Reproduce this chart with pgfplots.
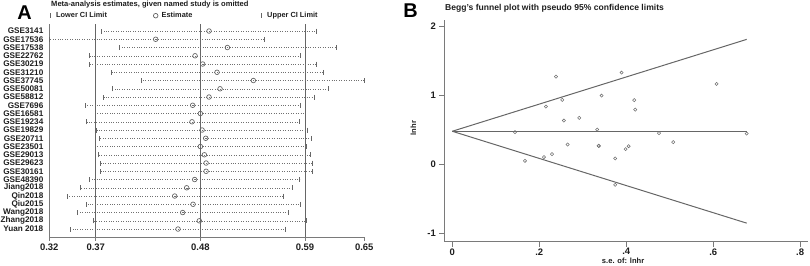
\documentclass[border=0pt]{standalone}
\usepackage{pgfplots}
\pgfplotsset{compat=1.18}
\usepackage{pgfplotstable}
\usepackage{fontspec}
\setmainfont{Liberation Sans}
\definecolor{txt}{HTML}{1E1E1E}
\definecolor{ln}{HTML}{666666}
\definecolor{axc}{HTML}{7A7A7A}
\definecolor{mk}{HTML}{707070}
\pgfplotsset{every axis title shift=0pt}

% leave-one-out estimates (row position, estimate, lower CI, upper CI)
\pgfplotstableread{
y est lo hi
25 0.4891 0.3760 0.6016
24 0.4330 0.3212 0.5469
23 0.5084 0.3945 0.6233
22 0.4744 0.3630 0.5854
21 0.4824 0.3630 0.6023
20 0.4975 0.3861 0.6089
19 0.5357 0.4183 0.6523
18 0.5007 0.3875 0.6145
17 0.4891 0.3777 0.6002
16 0.4719 0.3595 0.5854
15 0.4800 0.3700 0.5907
14 0.4712 0.3605 0.5837
13 0.4818 0.3707 0.5921
12 0.4856 0.3742 0.5970
11 0.4800 0.3697 0.5910
10 0.4842 0.3728 0.5953
9 0.4860 0.3746 0.5977
8 0.4860 0.3746 0.5977
7 0.4740 0.3633 0.5844
6 0.4656 0.3539 0.5770
5 0.4530 0.3399 0.5676
4 0.4723 0.3605 0.5847
3 0.4614 0.3507 0.5728
2 0.4789 0.3672 0.5910
1 0.4565 0.3437 0.5693
}\loodata

% Begg's funnel: se, lnhr
\pgfplotstableread{
se lnhr
0.1441 0.467
0.1671 0.053
0.2108 0.107
0.2154 0.837
0.2292 0.150
0.2384 1.269
0.2529 0.933
0.2568 0.635
0.2653 0.288
0.2920 0.674
0.3333 0.505
0.3366 0.270
0.3370 0.268
0.3434 0.995
0.3747 0.087
0.3747 -0.293
0.3894 1.327
0.3986 0.222
0.4055 0.265
0.4184 0.929
0.4207 0.793
0.4752 0.453
0.5080 0.323
0.6078 1.164
0.6770 0.447
}\funneldata

\begin{document}
\begin{tikzpicture}[font=\bfseries, text=txt]
\path[use as bounding box] (0,0) rectangle (810bp,266bp);

% ---------------- Panel A ----------------
\node[font=\fontsize{20}{22}\bfseries, text=black] at (24.5bp,253bp) {A};
\begin{axis}[
  at={(49.3bp,28.7bp)}, anchor=south west,
  scale only axis, width=315bp, height=213.3bp,
  xmin=0.3212, xmax=0.6523, ymin=0, ymax=25.85,
  axis x line*=bottom, axis y line*=left,
  axis line style={axc, line width=0.8bp},
  xtick={0.3212,0.37,0.48,0.59,0.6523},
  xticklabels={0.32,0.37,0.48,0.59,0.65},
  xtick align=outside, ytick align=inside,
  major tick length=3.5bp,
  x tick style={axc, line width=0.8bp},
  y tick style={draw=none},
  ytick={1,...,25},
  yticklabels={Yuan 2018,Zhang2018,Wang2018,Qiu2015,Qin2018,Jiang2018,GSE48390,GSE30161,GSE29623,GSE29013,GSE23501,GSE20711,GSE19829,GSE19234,GSE16581,GSE7696,GSE58812,GSE50081,GSE37745,GSE31210,GSE30219,GSE22762,GSE17538,GSE17536,GSE3141},
  xticklabel style={font=\fontsize{9.5}{10}\bfseries, inner sep=0pt, yshift=-3bp},
  yticklabel style={font=\fontsize{8.2}{8.25}\bfseries, inner sep=0pt, xshift=-5.8bp},
  /pgf/number format/assume math mode=true,
  title={Meta-analysis estimates, given named study is omitted},
  title style={at={(axis description cs:0,1)}, anchor=west, xshift=1.7bp, yshift=19bp, inner sep=0pt, font=\fontsize{7.6}{8}\bfseries},
  legend columns=3,
  legend image code/.code={\path[draw=none, fill=none] (-3bp,-2.5bp) rectangle (6bp,2.5bp); \draw[#1] plot coordinates {(0bp,0bp)};},
  legend style={at={(axis description cs:0,1)}, anchor=west, xshift=-2.3bp, yshift=8.3bp,
    draw=none, fill=none, inner sep=0pt, column sep=0pt, row sep=0pt,
    nodes={inner sep=0pt}, font=\fontsize{7.4}{8}\bfseries},
  legend cell align=left,
  clip=false,
]
\addlegendimage{only marks, mark=|, mark size=2.5bp, mark options={ln, line width=0.7bp}}
\addlegendentry{\makebox[96.5bp][l]{Lower CI Limit}}
\addlegendimage{only marks, mark=o, mark size=2.3bp, mark options={ln, line width=0.7bp}}
\addlegendentry{\makebox[96.5bp][l]{Estimate}}
\addlegendimage{only marks, mark=|, mark size=2.5bp, mark options={ln, line width=0.7bp}}
\addlegendentry{\makebox[96.5bp][l]{Upper CI Limit}}

\addplot[ln, line width=1bp, forget plot] coordinates {(0.37,0) (0.37,25.85)};
\addplot[ln, line width=1bp, forget plot] coordinates {(0.48,0) (0.48,25.85)};
\addplot[ln, line width=1bp, forget plot] coordinates {(0.59,0) (0.59,25.85)};

\addplot[forget plot, only marks, mark=o, mark size=2.3bp,
  mark options={ln, fill=white, line width=0.7bp, solid},
  error bars/.cd, x dir=both, x explicit,
  error bar style={mk, line width=0.45bp, dotted},
  error mark options={ln, solid, line width=0.7bp, mark size=2.5bp, rotate=90}]
  table[x=est, y=y,
        x error plus expr=\thisrow{hi}-\thisrow{est},
        x error minus expr=\thisrow{est}-\thisrow{lo}] {\loodata};
\end{axis}

% ---------------- Panel B ----------------
\node[font=\fontsize{20}{22}\bfseries, text=black] at (410.5bp,255bp) {B};
\begin{axis}[
  at={(444bp,24.3bp)}, anchor=south west,
  scale only axis, width=364bp, height=221.7bp,
  xmin=-0.019, xmax=0.818, ymin=-1.115, ymax=2.087,
  axis x line*=bottom, axis y line*=left,
  axis line style={axc, line width=0.8bp},
  tick align=outside, major tick length=5bp,
  tick style={axc, line width=0.8bp},
  xtick={0,0.2,0.4,0.6,0.8}, xticklabels={0,.2,.4,.6,.8},
  ytick={-1,0,1,2}, yticklabels={-1,0,1,2},
  ticklabel style={font=\fontsize{9.5}{10}\bfseries},
  xticklabel style={inner sep=0pt, yshift=-1.5bp},
  yticklabel style={inner sep=0pt, xshift=-3bp},
  /pgf/number format/assume math mode=true,
  xlabel={s.e. of: lnhr},
  xlabel style={at={(axis description cs:0.492,-0.085)}, anchor=center, inner sep=0pt, font=\fontsize{7.6}{8}\bfseries},
  ylabel={lnhr},
  ylabel style={at={(axis description cs:-0.084,0.513)}, anchor=center, inner sep=0pt, font=\fontsize{7.6}{8}\bfseries},
  title={Begg's funnel plot with pseudo 95\% confidence limits},
  title style={at={(axis description cs:0,1)}, anchor=west, xshift=1bp, yshift=12bp, inner sep=0pt, font=\fontsize{8.6}{9}\bfseries},
  clip=false,
]
\addplot[ln, line width=1bp] coordinates {(0,0.48) (0.677,1.807)};
\addplot[ln, line width=1bp] coordinates {(0,0.48) (0.677,0.48)};
\addplot[ln, line width=1bp] coordinates {(0,0.48) (0.677,-0.847)};
\addplot[only marks, mark=o, mark size=1.6bp, mark options={mk, line width=0.55bp}]
  table[x=se, y=lnhr] {\funneldata};
\end{axis}
\end{tikzpicture}
\end{document}
